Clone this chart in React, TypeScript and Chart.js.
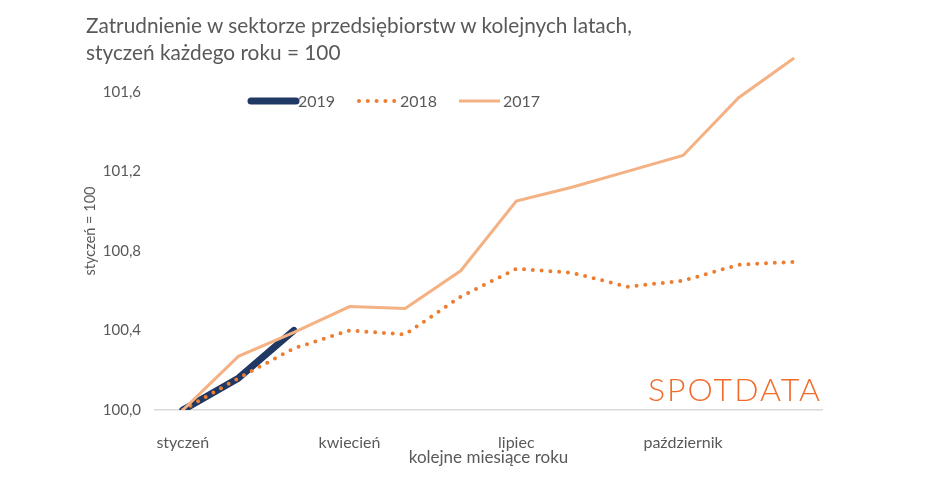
import React, { useEffect, useRef } from 'react';
import Chart from 'chart.js/auto';

const months = [
    'styczeń', 'luty', 'marzec', 'kwiecień', 'maj', 'czerwiec',
    'lipiec', 'sierpień', 'wrzesień', 'październik', 'listopad', 'grudzień',
];
const years = ['2019', '2018', '2017'];
const values2019 = [100.0, 100.16, 100.40];
const values2018 = [100.0, 100.16, 100.31, 100.40, 100.38, 100.57, 100.71, 100.69, 100.62, 100.65, 100.73, 100.745];
const values2017 = [100.0, 100.27, 100.39, 100.52, 100.51, 100.70, 101.05, 101.12, 101.20, 101.28, 101.57, 101.77];

const textColor = '#595959';
const fontFamily = 'Lato, "Open Sans", sans-serif';

// legend drawn by hand, Excel puts it inside the plot area
const legendPlugin = {
    id: 'inlineLegend',
    afterDraw(chart: any) {
        const ctx = chart.ctx;
        const y = 101;
        const items = [
            { x0: 251, x1: 296, tx: 298 },
            { x0: 359, x1: 395, tx: 400 },
            { x0: 459, x1: 500, tx: 503 },
        ];
        ctx.save();
        chart.data.datasets.forEach((ds: any, i: number) => {
            const it = items[i];
            ctx.beginPath();
            ctx.strokeStyle = ds.borderColor;
            ctx.lineWidth = ds.borderWidth;
            ctx.lineCap = ds.borderCapStyle || 'butt';
            ctx.setLineDash(ds.borderDash || []);
            ctx.moveTo(it.x0, y);
            ctx.lineTo(it.x1, y);
            ctx.stroke();
            ctx.setLineDash([]);
            ctx.fillStyle = textColor;
            ctx.font = `16px ${fontFamily}`;
            ctx.textBaseline = 'middle';
            ctx.textAlign = 'left';
            ctx.fillText(ds.label, it.tx, y + 1);
        });
        ctx.restore();
    },
};

const LineChart: React.FC = () => {
    const canvas = useRef<HTMLCanvasElement | null>(null);
    const chartRef = useRef<Chart | null>(null);

    useEffect(() => {
        const ctx = canvas.current;
        if (!ctx) return;
        if (chartRef.current) chartRef.current.destroy();

        chartRef.current = new Chart(ctx, {
            type: 'line',
            data: {
                labels: months,
                datasets: [
                    {
                        label: years[0],
                        data: values2019,
                        borderColor: '#1F3864',
                        borderWidth: 7,
                        borderCapStyle: 'round',
                        borderJoinStyle: 'round',
                        pointRadius: 0,
                        order: 3,
                    },
                    {
                        label: years[1],
                        data: values2018,
                        borderColor: '#ED7D31',
                        borderWidth: 4,
                        borderDash: [0, 8.8],
                        borderCapStyle: 'round',
                        pointRadius: 0,
                        order: 2,
                    },
                    {
                        label: years[2],
                        data: values2017,
                        borderColor: '#F4B183',
                        borderWidth: 3,
                        pointRadius: 0,
                        order: 1,
                    },
                ],
            },
            options: {
                animation: false,
                responsive: true,
                maintainAspectRatio: false,
                layout: { padding: { top: 52, right: 123, bottom: 0, left: 0 } },
                plugins: {
                    legend: { display: false },
                    tooltip: { enabled: false },
                },
                scales: {
                    x: {
                        offset: true,
                        grid: { display: false },
                        border: { display: true, color: '#D9D9D9', width: 1.5 },
                        ticks: {
                            autoSkip: false,
                            maxRotation: 0,
                            padding: 15,
                            color: textColor,
                            font: { family: fontFamily, size: 16 },
                            callback: (_v: any, i: number) => (i % 3 === 0 ? months[i] : ''),
                        },
                        title: {
                            display: true,
                            text: 'kolejne miesiące roku',
                            color: textColor,
                            font: { family: fontFamily, size: 17 },
                            padding: { top: 0, bottom: 15 },
                        },
                        afterFit: (scale: any) => { scale.height = 73; },
                    },
                    y: {
                        min: 100,
                        max: 101.8,
                        grid: { display: false },
                        border: { display: false },
                        ticks: {
                            stepSize: 0.4,
                            padding: 6,
                            color: textColor,
                            font: { family: fontFamily, size: 15 },
                            callback: (v: any) => Number(v).toFixed(1).replace('.', ','),
                        },
                        afterBuildTicks: (scale: any) => {
                            scale.ticks = scale.ticks.filter((t: any) => t.value < 101.7);
                        },
                        title: {
                            display: true,
                            text: 'styczeń = 100',
                            color: textColor,
                            font: { family: fontFamily, size: 14.5 },
                            padding: { top: 82, bottom: 0 },
                        },
                        afterFit: (scale: any) => { scale.width = 155; },
                    },
                },
            },
            plugins: [legendPlugin],
        });

        return () => {
            chartRef.current?.destroy();
            chartRef.current = null;
        };
    }, []);

    return (
        <div style={{ position: 'fixed', left: 0, top: 0, width: 945, height: 483, background: '#fff' }}>
            <div
                style={{
                    position: 'absolute', left: 86, top: 11, color: textColor,
                    fontFamily, fontSize: 20.8, lineHeight: '27px',
                }}
            >
                Zatrudnienie w sektorze przedsiębiorstw w kolejnych latach,
                <br />
                styczeń każdego roku = 100
            </div>
            <div
                style={{
                    position: 'absolute', left: 648, top: 369, color: '#F26B2A',
                    fontFamily, fontWeight: 300, fontSize: 32, letterSpacing: 2,
                }}
            >
                SPOTDATA
            </div>
            <canvas ref={canvas}></canvas>
        </div>
    );
};

export default function App() {
    return <LineChart />;
}
